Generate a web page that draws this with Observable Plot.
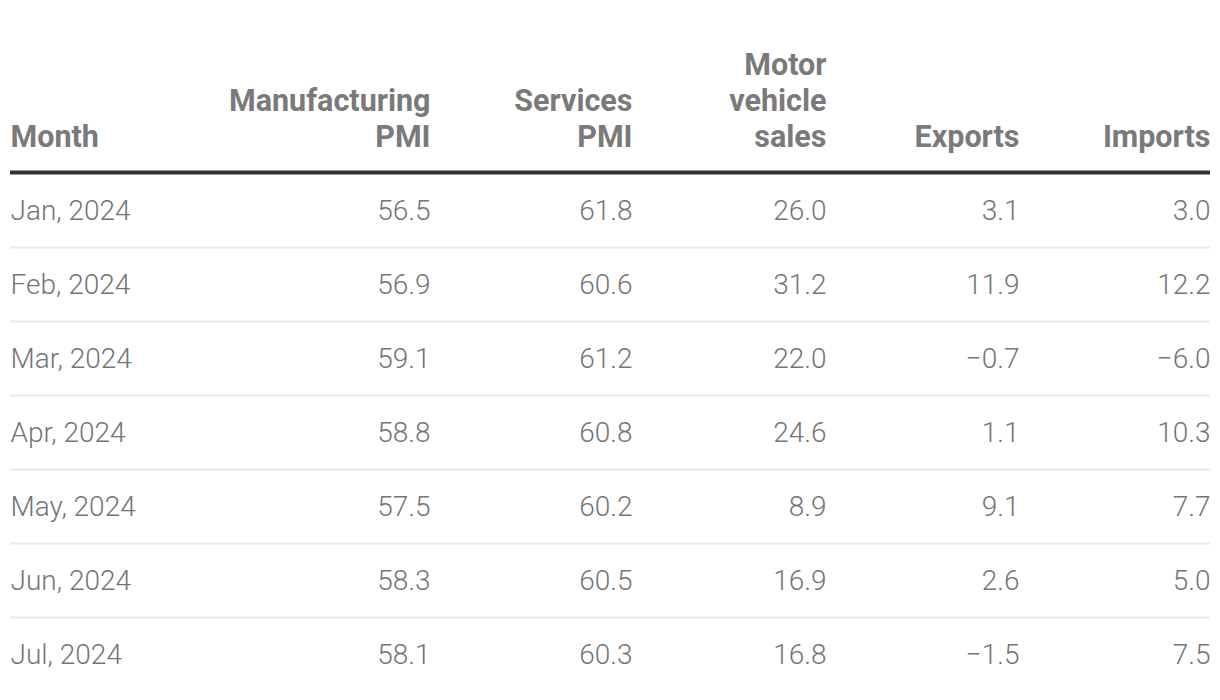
<!DOCTYPE html>
<html>
<head>
<meta charset="utf-8">
<script src="https://cdn.jsdelivr.net/npm/d3@7"></script>
<script src="https://cdn.jsdelivr.net/npm/@observablehq/plot@0.6"></script>
<style>
  html, body { margin: 0; padding: 0; background: #fff; }
  #chart svg { display: block; }
</style>
</head>
<body>
<div id="chart"></div>
<script>
const months = ["Jan, 2024", "Feb, 2024", "Mar, 2024", "Apr, 2024", "May, 2024", "Jun, 2024", "Jul, 2024"];
const manufacturingPMI = [56.5, 56.9, 59.1, 58.8, 57.5, 58.3, 58.1];
const servicesPMI = [61.8, 60.6, 61.2, 60.8, 60.2, 60.5, 60.3];
const motorVehicleSales = [26.0, 31.2, 22.0, 24.6, 8.9, 16.9, 16.8];
const exportsGrowth = [3.1, 11.9, -0.7, 1.1, 9.1, 2.6, -1.5];
const importsGrowth = [3.0, 12.2, -6.0, 10.3, 7.7, 5.0, 7.5];

const monthHeader = "Month";
const columnKeys = ["manufacturing", "services", "motor", "exports", "imports"];
const columnHeaders = ["Manufacturing\nPMI", "Services\nPMI", "Motor\nvehicle\nsales", "Exports", "Imports"];
const columnValues = [manufacturingPMI, servicesPMI, motorVehicleSales, exportsGrowth, importsGrowth];

const fmt = d3.format(".1f");

const cells = [];
columnKeys.forEach((key, c) => {
  months.forEach((m, i) => {
    cells.push({column: c, row: i, value: columnValues[c][i]});
  });
});
const headers = columnKeys.map((key, c) => ({column: c, label: columnHeaders[c]}));
const rowsIdx = months.map((m, i) => i);

const FONT = "Roboto, 'Noto Sans', sans-serif";

const chart = Plot.plot({
  width: 1220,
  height: 700,
  marginTop: 0,
  marginBottom: 0,
  marginLeft: 10,
  marginRight: 10,
  style: {fontFamily: FONT, background: "#fff", overflow: "visible"},
  // column right edges (piecewise linear over column index)
  x: {type: "linear", domain: columnKeys.map((k, c) => c), range: [430, 632, 826, 1019, 1210], axis: null},
  y: {type: "linear", domain: [0, months.length], range: [173, 691], axis: null},
  marks: [
    // light row separators
    Plot.ruleY(rowsIdx.slice(1), {y: d => d, stroke: "#e8e8e8", strokeWidth: 2}),
    // thick header rule
    Plot.ruleY([0], {y: d => d, stroke: "#333333", strokeWidth: 4, dy: -1}),
    // header: Month
    Plot.text([monthHeader], {
      y: () => 0, frameAnchor: "left", textAnchor: "start", lineAnchor: "bottom",
      text: d => d, dy: -27, fontSize: 30.5, fontWeight: 700, fill: "#7a7a7a"
    }),
    // header: value columns
    Plot.text(headers, {
      x: "column", y: () => 0, text: "label", textAnchor: "end", lineAnchor: "bottom",
      lineHeight: 36 / 30.5, dy: -27, fontSize: 30.5, fontWeight: 700, fill: "#7a7a7a"
    }),
    // month labels
    Plot.text(months, {
      y: (d, i) => i + 0.5, frameAnchor: "left", textAnchor: "start", text: d => d,
      dy: 1, fontSize: 28, fontWeight: 300, fill: "#757575"
    }),
    // values
    Plot.text(cells, {
      x: "column", y: d => d.row + 0.5, text: d => fmt(d.value), textAnchor: "end",
      dy: 1, fontSize: 28, fontWeight: 300, fill: "#757575"
    })
  ]
});
document.getElementById("chart").appendChild(chart);
</script>
</body>
</html>
